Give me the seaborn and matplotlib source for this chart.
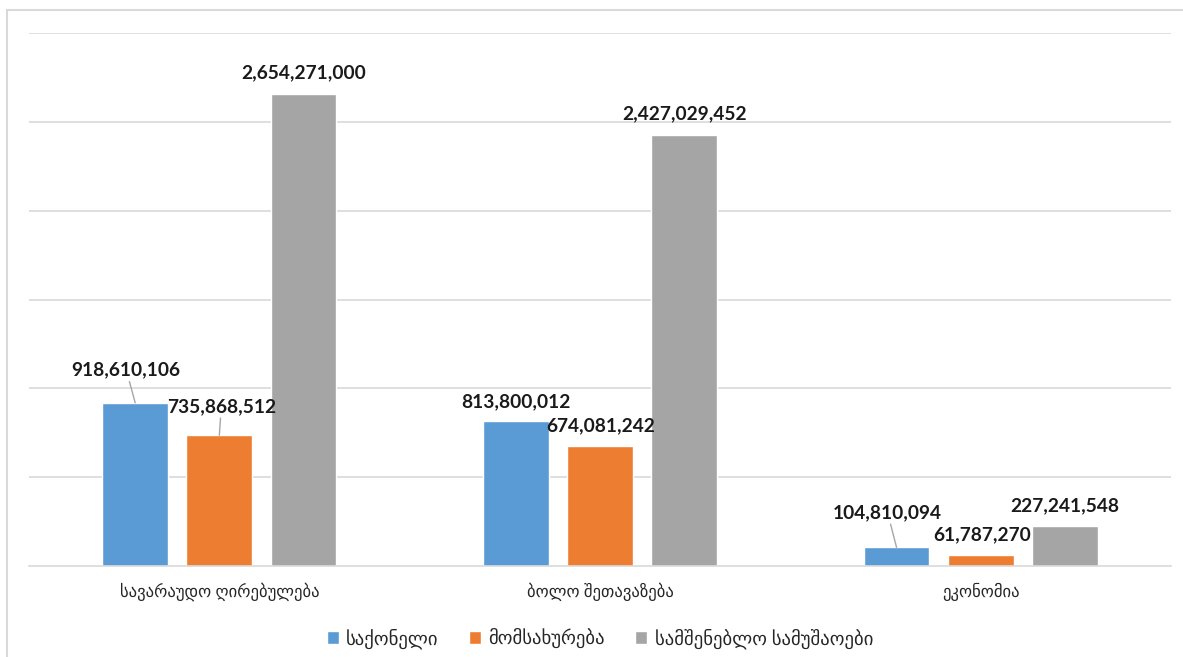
import pandas as pd
import matplotlib.pyplot as plt
import seaborn as sns
from matplotlib.patches import Rectangle

# Dados do gráfico
categories = ["სავარაუდო ღირებულება", "ბოლო შეთავაზება", "ეკონომია"]
series = ["საქონელი", "მომსახურება", "სამშენებლო სამუშაოები"]
goods = [918610106, 813800012, 104810094]
services = [735868512, 674081242, 61787270]
works = [2654271000, 2427029452, 227241548]
colors = ["#5B9BD5", "#ED7D31", "#A5A5A5"]

# Offsets dos rótulos (pixels) e se levam linha de ligação
label_offsets = [
    [(-9, 33, True), (0, 20, False), (-9, 35, True)],
    [(2, 29, True), (1, 20, False), (1, 20, False)],
    [(0, 22, False), (0, 21, False), (0, 20, False)],
]

df = pd.DataFrame({
    "category": categories * 3,
    "series": [s for s in series for _ in categories],
    "value": goods + services + works,
})

sns.set_style("white")
plt.rcParams["font.family"] = ["Lato", "DejaVu Sans"]

fig = plt.figure(figsize=(11.83, 6.57), dpi=100)
ax = fig.add_axes([29 / 1183, 1 - 566 / 657, 1142 / 1183, 533 / 657])

sns.barplot(data=df, x="category", y="value", hue="series", palette=colors,
            width=0.663, gap=0.217, saturation=1, ax=ax, errorbar=None)

ax.set_xlim(-0.5, 2.5)
ax.set_ylim(0, 3e9)
ax.set_yticks([i * 5e8 for i in range(1, 7)])
ax.set_yticklabels([])
ax.grid(axis="y", color="#D9D9D9", lw=1.2)
ax.set_axisbelow(True)
ax.set_xlabel("")
ax.set_ylabel("")
ax.tick_params(axis="both", length=0)
ax.tick_params(axis="x", pad=12, labelsize=12, labelcolor="#262626")
for s in ["left", "right", "top"]:
    ax.spines[s].set_visible(False)
ax.spines["bottom"].set_color("#D9D9D9")
ax.spines["bottom"].set_linewidth(1.2)

# Rótulos de dados
for i, cont in enumerate(ax.containers):
    for j, bar in enumerate(cont):
        dx, dy, leader = label_offsets[i][j]
        xc = bar.get_x() + bar.get_width() / 2
        h = bar.get_height()
        kw = {}
        if leader:
            kw["arrowprops"] = dict(arrowstyle="-", color="#A6A6A6", lw=1,
                                    shrinkA=0, shrinkB=0)
        ax.annotate(f"{h:,.0f}", (xc, h), xytext=(dx, dy),
                    textcoords="offset pixels", ha="center", va="center",
                    fontsize=13.8, fontweight="bold", color="#1a1a1a", **kw)

sns.move_legend(ax, "upper center", bbox_to_anchor=(0.5, -0.085), ncol=3,
                frameon=False, title=None, fontsize=13.5, handlelength=0.65,
                handleheight=0.65, handletextpad=0.4, columnspacing=1.6)

# Moldura
fig.patches.append(Rectangle((7 / 1183, -0.05), 1.2, 0.05 + 1 - 10 / 657,
                             transform=fig.transFigure, fill=False,
                             edgecolor="#D9D9D9", lw=1.5, zorder=0))

fig.savefig("out.png", dpi=100)
